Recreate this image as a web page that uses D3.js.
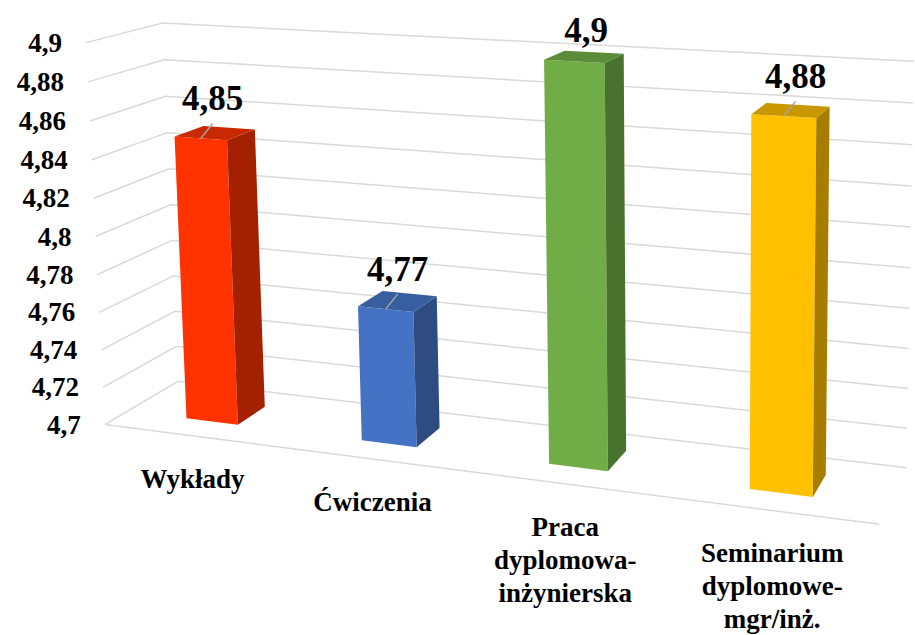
<!DOCTYPE html>
<html>
<head>
<meta charset="utf-8">
<script src="https://cdn.jsdelivr.net/npm/d3@7"></script>
<style>
	body { margin: 0; background: #fff; }
	svg { display: block; }
</style>
</head>
<body>
<div id="chart"></div>
<script>
// DATA
const categories = ['Wykłady', 'Ćwiczenia', 'Praca dyplomowa-inżynierska', 'Seminarium dyplomowe-mgr/inż.'];
const categoryLines = [['Wykłady'], ['Ćwiczenia'], ['Praca', 'dyplomowa-', 'inżynierska'], ['Seminarium', 'dyplomowe-', 'mgr/inż.']];
const values = [4.85, 4.77, 4.9, 4.88];
const tickValues = [4.7, 4.72, 4.74, 4.76, 4.78, 4.8, 4.82, 4.84, 4.86, 4.88, 4.9];

// STYLE
const barColors = [
	{ front: '#FF3300', top: '#C92900', side: '#A32100' },
	{ front: '#4472C4', top: '#375E9F', side: '#2E4C82' },
	{ front: '#70AD47', top: '#5B8C3A', side: '#4A722F' },
	{ front: '#FFC000', top: '#C99700', side: '#A67D00' }
];
const font = 'Liberation Serif';
const W = 915, H = 635;

// camera calibration: world [X, Y, Z] (X along categories, Y value, Z depth 0=back 1=front) -> screen
const calib = [
	[[0, 1, 1], [84, 43]],
	[[0, 0, 1], [106, 423]],
	[[0, 1, 0], [165, 22]],
	[[0, 0, 0], [176, 382]],
	[[1, 1, 0], [913, 60]],
	[[1, 0, 0], [907, 467]],
	[[1, 0, 1], [880, 524]],
	[[0, 0.5, 1], [96, 238]],
	[[1, 0.5, 0], [910, 270]]
];
const cx = 450, cy = 300, sc = 500;

// least squares DLT for a 3x4 camera matrix
function solveCamera(pts) {
	const A = [], b = [];
	pts.forEach(([[X, Y, Z], [u0, v0]]) => {
		const u = (u0 - cx) / sc, v = (v0 - cy) / sc;
		A.push([X, Y, Z, 1, 0, 0, 0, 0, -u * X, -u * Y, -u * Z]); b.push(u);
		A.push([0, 0, 0, 0, X, Y, Z, 1, -v * X, -v * Y, -v * Z]); b.push(v);
	});
	const n = 11;
	const M = [];
	for (let i = 0; i < n; i++) {
		const row = [];
		for (let j = 0; j < n; j++) row.push(d3.sum(A, (r) => r[i] * r[j]));
		row.push(d3.sum(A, (r, k) => r[i] * b[k]));
		M.push(row);
	}
	for (let c = 0; c < n; c++) {
		let piv = c;
		for (let r = c + 1; r < n; r++) if (Math.abs(M[r][c]) > Math.abs(M[piv][c])) piv = r;
		[M[c], M[piv]] = [M[piv], M[c]];
		for (let r = 0; r < n; r++) {
			if (r === c) continue;
			const f = M[r][c] / M[c][c];
			for (let k = c; k <= n; k++) M[r][k] -= f * M[c][k];
		}
	}
	return M.map((r, i) => r[n] / r[i]);
}
const p = solveCamera(calib);
function project([X, Y, Z]) {
	const w = p[8] * X + p[9] * Y + p[10] * Z + 1;
	return [
		(p[0] * X + p[1] * Y + p[2] * Z + p[3]) / w * sc + cx,
		(p[4] * X + p[5] * Y + p[6] * Z + p[7]) / w * sc + cy
	];
}

// scales
const x = d3.scaleBand().domain(categories).range([0, 1]).paddingInner(0.7).paddingOuter(0.35);
const y = d3.scaleLinear().domain([4.7, 4.9]).range([0, 1]);
const zBar = [0.3, 0.7];
const fmt = d3.formatLocale({ decimal: ',', thousands: ' ', grouping: [3], currency: ['', ''] }).format('~g');
const line = d3.line();
const path = (pts) => line(pts.map(project)) + 'Z';

const svg = d3.select('#chart').append('svg').attr('width', W).attr('height', H);

// gridlines (left wall + back wall) and floor front edge
svg.append('g').selectAll('path')
	.data(tickValues)
	.enter()
	.append('path')
	.attr('d', (t) => line([[0, y(t), 1], [0, y(t), 0], [1, y(t), 0]].map(project)))
	.attr('fill', 'none')
	.attr('stroke', '#d9d9d9')
	.attr('stroke-width', 1.5);
svg.append('path')
	.attr('d', line([[0, 0, 1], [1, 0, 1]].map(project)))
	.attr('stroke', '#d9d9d9')
	.attr('stroke-width', 1.5);

// value axis labels
svg.append('g').selectAll('text')
	.data(tickValues)
	.enter()
	.append('text')
	.attr('x', (t) => project([0, y(t), 1])[0] - 24)
	.attr('y', (t) => project([0, y(t), 1])[1] + 9)
	.attr('text-anchor', 'end')
	.attr('font-family', font)
	.attr('font-weight', 'bold')
	.attr('font-size', 27)
	.text((t) => fmt(t));

// bars: front, right side, top
const bars = svg.append('g').selectAll('g')
	.data(values)
	.enter()
	.append('g');
bars.each(function (v, i) {
	const g = d3.select(this);
	const x0 = x(categories[i]), x1 = x0 + x.bandwidth(), h = y(v);
	const [z0, z1] = zBar;
	const c = barColors[i];
	g.append('path').attr('d', path([[x0, 0, z1], [x1, 0, z1], [x1, h, z1], [x0, h, z1]])).attr('fill', c.front);
	g.append('path').attr('d', path([[x1, 0, z1], [x1, 0, z0], [x1, h, z0], [x1, h, z1]])).attr('fill', c.side);
	g.append('path').attr('d', path([[x0, h, z1], [x1, h, z1], [x1, h, z0], [x0, h, z0]])).attr('fill', c.top);
});

// data labels with leader lines
values.forEach((v, i) => {
	const xm = x(categories[i]) + x.bandwidth() / 2;
	const [ax, ay] = project([xm, y(v), zBar[1]]);
	const lx = ax + 12;
	const base = Math.max(ay - 28, 42);
	if (ay - (base + 13) > 10) {
		svg.append('line')
			.attr('x1', ax).attr('y1', ay)
			.attr('x2', lx).attr('y2', base + 13)
			.attr('stroke', '#a6a6a6')
			.attr('stroke-width', 1.5);
	}
	svg.append('text')
		.attr('x', lx).attr('y', base)
		.attr('text-anchor', 'middle')
		.attr('font-family', font)
		.attr('font-weight', 'bold')
		.attr('font-size', 35)
		.text(fmt(v));
});

// category labels
categoryLines.forEach((lines, i) => {
	const [ax, ay] = project([x(categories[i]) + x.bandwidth() / 2, 0, 1]);
	const t = svg.append('text')
		.attr('text-anchor', 'middle')
		.attr('font-family', font)
		.attr('font-weight', 'bold')
		.attr('font-size', 27);
	lines.forEach((s, k) => {
		t.append('tspan').attr('x', ax + 2).attr('y', ay + 52 + k * 33).text(s);
	});
});
</script>
</body>
</html>
